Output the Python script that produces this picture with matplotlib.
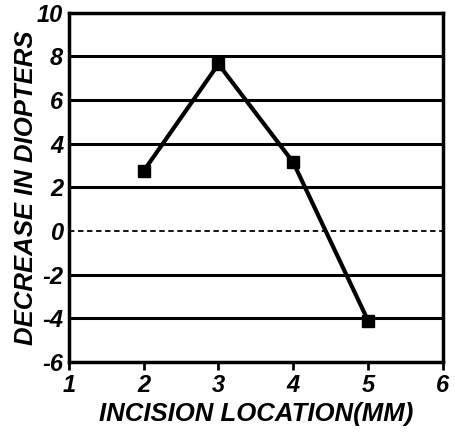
import matplotlib.pyplot as plt

location = [2, 3, 4, 5]
decrease = [2.75, 7.65, 3.15, -4.1]
y_grid = [-4, -2, 2, 4, 6, 8]

plt.rcParams['font.family'] = 'Liberation Sans'
plt.rcParams['axes.unicode_minus'] = False

fig = plt.figure(figsize=(4.56, 4.42), dpi=100)
ax = fig.add_axes([0.151, 0.181, 0.82, 0.79])

for g in y_grid:
    ax.axhline(g, color='black', lw=2.2, zorder=1)
ax.axhline(0, color='black', lw=1.3, ls=(0, (3, 2)), zorder=1)

ax.plot(location, decrease, color='black', lw=3, marker='s', ms=9, zorder=3)

ax.set_xlim(1, 6)
ax.set_ylim(-6, 10)
ax.set_xticks(range(1, 7))
ax.set_yticks(range(-6, 11, 2))
for s in ax.spines.values():
    s.set_linewidth(2.5)
ax.tick_params(axis='x', direction='out', length=6, width=2, pad=3)
ax.tick_params(axis='y', length=0, pad=4)
for lab in ax.get_xticklabels() + ax.get_yticklabels():
    lab.set_fontsize(17)
    lab.set_fontweight('bold')
    lab.set_fontstyle('italic')

ax.set_xlabel('INCISION LOCATION(MM)', fontsize=18.5, fontweight='bold',
              fontstyle='italic', labelpad=3)
ax.set_ylabel('DECREASE IN DIOPTERS', fontsize=18.5, fontweight='bold',
              fontstyle='italic', labelpad=-1)

fig.savefig('out.png', dpi=100)
